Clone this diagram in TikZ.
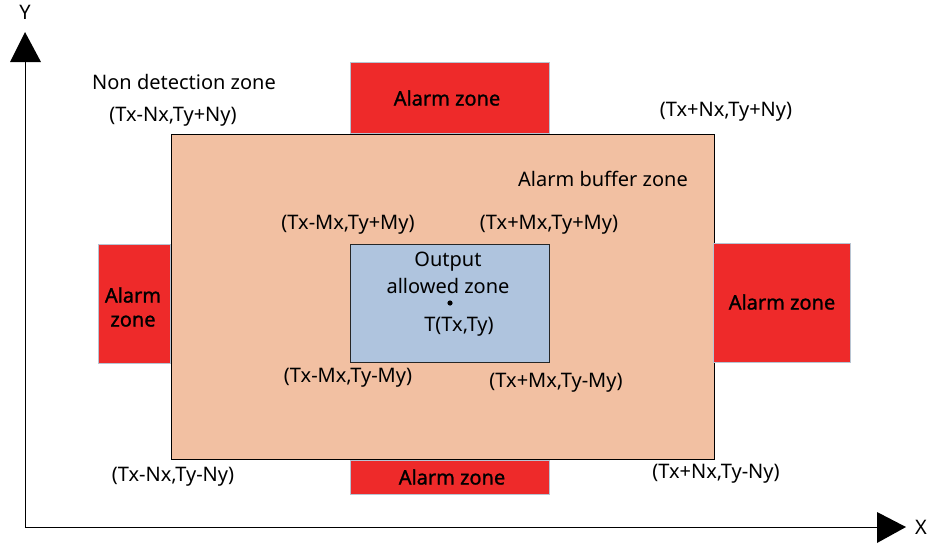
\documentclass[tikz,border=0pt]{standalone}
\usepackage{fontspec}
\setmainfont{Noto Sans}
\newfontfamily\alarmfont[FakeBold=1.2]{Noto Sans}
\begin{document}
\begin{tikzpicture}[x=1pt,y=-1pt,
  lbl/.style={font=\fontsize{20}{24}\selectfont, inner sep=0pt},
  alarmtxt/.style={font=\fontsize{20}{24}\selectfont\alarmfont, inner sep=0pt, align=center},
  alarm/.style={fill=alarmred, draw=alarmedge, line width=0.8pt},
  axis/.style={line width=0.9pt}]
\definecolor{alarmred}{HTML}{EE2A2A}
\definecolor{alarmedge}{HTML}{B8C4D2}
\definecolor{buffer}{HTML}{F2C0A2}
\definecolor{inner}{HTML}{AFC4DE}
\useasboundingbox (0,0) rectangle (929,544);
% axes
\coordinate (O) at (25,527);
\coordinate (Ytop) at (25,62);
\coordinate (Xend) at (877,527);
\draw[axis] (O) -- (Ytop);
\draw[axis] (O) -- (Xend);
\fill (10,62) -- (25,32) -- (41,62) -- cycle;
\fill (877,512) -- (906,527) -- (877,543) -- cycle;
\node[lbl] (ylab) at (25,12) {Y};
\node[lbl] (xlab) at (921,527) {X};
% buffer zone
\node[draw=black, fill=buffer, line width=0.8pt, minimum width=543pt, minimum height=325pt, inner sep=0pt] (buf) at (442.5,296.5) {};
% alarm zones
\node[alarm, minimum width=199pt, minimum height=71pt, inner sep=0pt] (atop) at (449.5,97.5) {};
\node[alarm, minimum width=72pt, minimum height=119pt, inner sep=0pt] (aleft) at (134,303.5) {};
\node[alarm, minimum width=137pt, minimum height=119pt, inner sep=0pt] (aright) at (781.5,302.5) {};
\node[alarm, minimum width=199pt, minimum height=34pt, inner sep=0pt] (abot) at (449.5,477) {};
\node[alarmtxt] at (447,98) {Alarm zone};
\node[alarmtxt] at (133,307) {Alarm\\zone};
\node[alarmtxt] at (782,302) {Alarm zone};
\node[alarmtxt] at (452,477) {Alarm zone};
% inner zone
\node[draw=black!85, fill=inner, line width=0.8pt, minimum width=199pt, minimum height=118pt, inner sep=0pt] (inz) at (449.5,303) {};
\fill (450,303) circle (2.6pt);
\node[lbl] (out1) at (448,262) {Output};
\node[lbl] (out2) at (448,286) {allowed zone};
\node[lbl] (tt) at (459,327) {T(Tx,Ty)};
% labels
\node[lbl] (nd) at (184,82) {Non detection zone};
\node[lbl] (nw) at (173,117) {(Tx-Nx,Ty+Ny)};
\node[lbl] (ne) at (726,112) {(Tx+Nx,Ty+Ny)};
\node[lbl] (ab) at (603,179) {Alarm buffer zone};
\node[lbl] (mw) at (348,225) {(Tx-Mx,Ty+My)};
\node[lbl] (me) at (549,225) {(Tx+Mx,Ty+My)};
\node[lbl] (msw) at (348,378) {(Tx-Mx,Ty-My)};
\node[lbl] (mse) at (556,383) {(Tx+Mx,Ty-My)};
\node[lbl] (sw) at (173,477) {(Tx-Nx,Ty-Ny)};
\node[lbl] (se) at (716,474) {(Tx+Nx,Ty-Ny)};
\end{tikzpicture}
\end{document}
